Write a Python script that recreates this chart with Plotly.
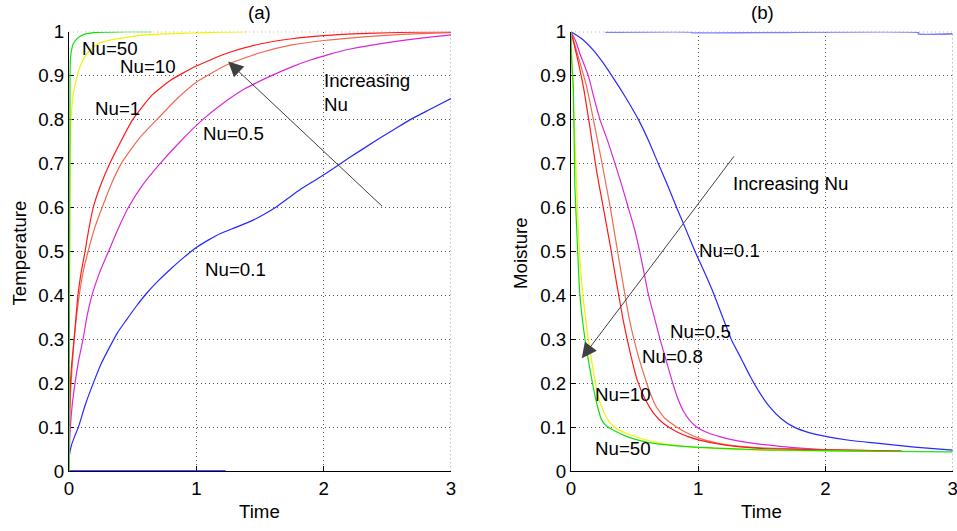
import plotly.graph_objects as go

# ---------- panel (a): temperature vs time ----------
ta_flat = [0.0, 1.23]
va_flat = [0.001, 0.001]

ta_nu01 = [0, 0.003, 0.02, 0.045, 0.073, 0.13, 0.19, 0.25, 0.32, 0.38, 0.45, 0.53, 0.61, 0.7, 0.79, 0.9, 1.0, 1.1, 1.19, 1.32, 1.45, 1.54, 1.63, 1.72, 1.81, 1.92, 2.02, 2.2, 2.42, 2.55, 2.68, 2.84, 3.0]
va_nu01 = [0.0, 0.035, 0.06, 0.08, 0.1, 0.153, 0.2, 0.243, 0.283, 0.315, 0.344, 0.376, 0.405, 0.433, 0.458, 0.486, 0.509, 0.527, 0.541, 0.556, 0.572, 0.586, 0.602, 0.621, 0.64, 0.66, 0.678, 0.713, 0.754, 0.777, 0.8, 0.824, 0.848]

ta_nu05 = [0, 0.008, 0.025, 0.047, 0.078, 0.11, 0.14, 0.18, 0.24, 0.31, 0.38, 0.466, 0.58, 0.715, 0.88, 1.05, 1.2, 1.38, 1.59, 1.75, 1.89, 2.05, 2.2, 2.5, 2.75, 3.0]
va_nu05 = [0.02, 0.087, 0.15, 0.2, 0.255, 0.3, 0.35, 0.4, 0.452, 0.5, 0.548, 0.6, 0.652, 0.7, 0.752, 0.8, 0.835, 0.87, 0.9, 0.92, 0.935, 0.949, 0.96, 0.975, 0.985, 0.993]

ta_nu08 = [0, 0.004, 0.012, 0.025, 0.04, 0.06, 0.08, 0.11, 0.15, 0.2, 0.26, 0.33, 0.41, 0.55, 0.69, 0.85, 1.0, 1.24, 1.5, 1.75, 2.0, 2.34, 2.7, 3.0]
va_nu08 = [0.02, 0.1, 0.18, 0.24, 0.3, 0.355, 0.4, 0.452, 0.5, 0.552, 0.6, 0.652, 0.7, 0.757, 0.8, 0.848, 0.885, 0.925, 0.952, 0.97, 0.98, 0.989, 0.995, 0.998]

ta_nu1 = [0, 0.004, 0.01, 0.02, 0.04, 0.07, 0.095, 0.126, 0.155, 0.19, 0.25, 0.32, 0.41, 0.5, 0.65, 0.8, 1.0, 1.25, 1.5, 1.75, 2.0, 2.34, 2.7, 3.0]
va_nu1 = [0.02, 0.12, 0.19, 0.24, 0.3, 0.4, 0.452, 0.5, 0.55, 0.6, 0.652, 0.7, 0.752, 0.8, 0.855, 0.89, 0.922, 0.952, 0.972, 0.984, 0.991, 0.996, 0.999, 1.0]

ta_nu10 = [0, 0.006, 0.012, 0.02, 0.034, 0.06, 0.086, 0.14, 0.21, 0.32, 0.45, 0.58, 0.75, 0.97, 1.2, 1.4]
va_nu10 = [0.0, 0.6, 0.78, 0.82, 0.86, 0.895, 0.92, 0.95, 0.97, 0.981, 0.987, 0.992, 0.995, 0.997, 0.999, 1.0]

ta_nu50 = [0, 0.008, 0.012, 0.02, 0.034, 0.06, 0.086, 0.13, 0.2, 0.3, 0.45, 0.65]
va_nu50 = [0.0, 0.9, 0.94, 0.958, 0.973, 0.983, 0.989, 0.995, 0.998, 0.999, 1.0, 1.0]

# ---------- panel (b): moisture vs time ----------
tb_flat = [0.27, 0.95, 0.95, 2.73, 2.73, 3.0]
vb_flat = [0.999, 0.999, 0.998, 0.998, 0.995, 0.995]

tb_nu01 = [0, 0.08, 0.175, 0.25, 0.32, 0.42, 0.53, 0.61, 0.686, 0.76, 0.83, 0.9, 0.975, 1.05, 1.12, 1.19, 1.26, 1.34, 1.41, 1.48, 1.56, 1.65, 1.75, 1.87, 2.01, 2.2, 2.40, 2.7, 3.0]
vb_nu01 = [1.0, 0.985, 0.958, 0.93, 0.9, 0.855, 0.8, 0.752, 0.7, 0.65, 0.6, 0.552, 0.5, 0.452, 0.405, 0.352, 0.3, 0.255, 0.215, 0.18, 0.147, 0.12, 0.101, 0.088, 0.079, 0.07, 0.064, 0.055, 0.048]

tb_nu05 = [0, 0.035, 0.07, 0.136, 0.18, 0.228, 0.29, 0.346, 0.4, 0.45, 0.5, 0.54, 0.575, 0.61, 0.655, 0.70, 0.75, 0.80, 0.84, 0.88, 0.93, 0.99, 1.08, 1.22, 1.38, 1.54, 1.75, 2.01, 2.27]
vb_nu05 = [1.0, 0.98, 0.95, 0.9, 0.85, 0.8, 0.75, 0.7, 0.65, 0.6, 0.55, 0.5, 0.45, 0.4, 0.35, 0.3, 0.25, 0.2, 0.165, 0.139, 0.117, 0.1, 0.087, 0.075, 0.066, 0.06, 0.054, 0.049, 0.047]

tb_nu08 = [0, 0.05, 0.123, 0.19, 0.254, 0.31, 0.36, 0.41, 0.46, 0.515, 0.57, 0.62, 0.67, 0.74, 0.83, 0.92, 1.01, 1.15, 1.35, 1.6, 2.0, 2.6]
vb_nu08 = [1.0, 0.95, 0.875, 0.78, 0.685, 0.598, 0.511, 0.425, 0.344, 0.277, 0.223, 0.18, 0.147, 0.12, 0.101, 0.086, 0.075, 0.064, 0.056, 0.052, 0.049, 0.046]

tb_nu1 = [0, 0.05, 0.097, 0.15, 0.20, 0.255, 0.31, 0.36, 0.41, 0.465, 0.52, 0.585, 0.65, 0.73, 0.83, 0.92, 1.01, 1.2, 1.49, 1.8, 2.19, 2.6]
vb_nu1 = [1.0, 0.94, 0.875, 0.78, 0.685, 0.598, 0.511, 0.425, 0.344, 0.27, 0.208, 0.163, 0.132, 0.108, 0.09, 0.079, 0.071, 0.06, 0.052, 0.05, 0.048, 0.046]

tb_nu10 = [0, 0.004, 0.012, 0.025, 0.04, 0.057, 0.075, 0.097, 0.136, 0.175, 0.2, 0.23, 0.27, 0.31, 0.37, 0.44, 0.56, 0.70, 0.85, 1.0, 1.48, 2.0, 2.6]
vb_nu10 = [1.0, 0.97, 0.9, 0.8, 0.68, 0.55, 0.46, 0.39, 0.30, 0.23, 0.19, 0.155, 0.127, 0.109, 0.095, 0.086, 0.074, 0.064, 0.058, 0.054, 0.048, 0.046, 0.045]

tb_nu50 = [0, 0.003, 0.008, 0.018, 0.03, 0.045, 0.07, 0.11, 0.15, 0.19, 0.215, 0.24, 0.28, 0.33, 0.44, 0.6, 0.83, 1.2, 1.48, 2.0, 2.5, 3.0]
vb_nu50 = [1.0, 0.95, 0.92, 0.875, 0.65, 0.55, 0.4, 0.3, 0.23, 0.17, 0.14, 0.117, 0.103, 0.094, 0.079, 0.066, 0.058, 0.052, 0.049, 0.047, 0.045, 0.044]

x_ticks = [0, 1, 2, 3]
y_ticks = [round(0.1 * i, 1) for i in range(11)]

FONT = "Liberation Sans, Arial, sans-serif"
FS = 18.7

colors = {
    "flat_a": "#1010ff",
    "flat_b": "#8080ff",
    "nu01": "#2828ff",
    "nu05": "#d828d8",
    "nu08": "#f06a50",
    "nu1": "#ff1a1a",
    "nu10": "#f2f200",
    "nu50": "#10e010",
}

fig = go.Figure()

panel_a = [
    (ta_flat, va_flat, "flat_a"),
    (ta_nu01, va_nu01, "nu01"),
    (ta_nu05, va_nu05, "nu05"),
    (ta_nu08, va_nu08, "nu08"),
    (ta_nu1, va_nu1, "nu1"),
    (ta_nu10, va_nu10, "nu10"),
    (ta_nu50, va_nu50, "nu50"),
]
panel_b = [
    (tb_flat, vb_flat, "flat_b"),
    (tb_nu01, vb_nu01, "nu01"),
    (tb_nu05, vb_nu05, "nu05"),
    (tb_nu08, vb_nu08, "nu08"),
    (tb_nu1, vb_nu1, "nu1"),
    (tb_nu10, vb_nu10, "nu10"),
    (tb_nu50, vb_nu50, "nu50"),
]

for t, v, key in panel_a:
    fig.add_trace(go.Scatter(x=t, y=v, mode="lines", xaxis="x", yaxis="y",
                             line=dict(color=colors[key], width=1.2,
                                       shape="spline", smoothing=0.5),
                             showlegend=False, hoverinfo="skip"))
for t, v, key in panel_b:
    fig.add_trace(go.Scatter(x=t, y=v, mode="lines", xaxis="x2", yaxis="y2",
                             line=dict(color=colors[key], width=1.6 if key == "flat_b" else 1.2,
                                       shape="spline", smoothing=0.5),
                             showlegend=False, hoverinfo="skip"))

dom_y = [1 - 471.3 / 531, 1 - 31.7 / 531]
dom_xa = [69 / 957, 451 / 957]
dom_xb = [571 / 957, 952.7 / 957]

axis_common = dict(
    showgrid=True, gridcolor="#555555", griddash="1px,3px", gridwidth=1,
    showline=True, linecolor="black", linewidth=1, mirror=False,
    ticks="inside", ticklen=5, tickcolor="black", zeroline=False,
    layer="below traces",
    tickfont=dict(family=FONT, size=FS, color="black"),
)

fig.update_layout(
    width=957, height=531, autosize=False,
    margin=dict(l=0, r=0, t=0, b=0, autoexpand=False),
    paper_bgcolor="white", plot_bgcolor="white",
    font=dict(family=FONT, size=FS, color="black"),
    xaxis=dict(domain=dom_xa, range=[0, 3], tickvals=x_ticks, anchor="y", **axis_common),
    yaxis=dict(domain=dom_y, range=[0, 1], tickvals=y_ticks, anchor="x", **axis_common),
    xaxis2=dict(domain=dom_xb, range=[0, 3], tickvals=x_ticks, anchor="y2",
                ticklabeloverflow="allow", **axis_common),
    yaxis2=dict(domain=dom_y, range=[0, 1], tickvals=y_ticks, anchor="x2", **axis_common),
)

# dotted frame edges (top and right) like the grid
for xr, yr in (("x", "y"), ("x2", "y2")):
    fig.add_shape(type="line", xref=xr, yref=yr, x0=0, x1=3, y0=1, y1=1,
                  line=dict(color="#555555", width=1, dash="1px,3px"), layer="below")
    fig.add_shape(type="line", xref=xr, yref=yr, x0=3, x1=3, y0=0, y1=1,
                  line=dict(color="#555555", width=1, dash="1px,3px"), layer="below")

ann = []


def label(text, x, y, xr, yr, xanchor="left", align="left"):
    ann.append(dict(text=text, x=x, y=y, xref=xr, yref=yr, showarrow=False,
                    xanchor=xanchor, yanchor="middle", align=align,
                    font=dict(family=FONT, size=FS, color="black")))


# curve labels, panel (a)
label("Nu=50", 0.086, 0.962, "x", "y")
label("Nu=10", 0.387, 0.92, "x", "y")
label("Nu=1", 0.19, 0.826, "x", "y")
label("Nu=0.5", 1.04, 0.769, "x", "y")
label("Nu=0.1", 1.055, 0.458, "x", "y")
label("Increasing<br>Nu", 1.985, 0.862, "x", "y")

# curve labels, panel (b)
label("Nu=0.1", 0.99, 0.503, "x2", "y2")
label("Nu=0.5", 0.765, 0.318, "x2", "y2")
label("Nu=0.8", 0.54, 0.261, "x2", "y2")
label("Nu=10", 0.17, 0.174, "x2", "y2")
label("Nu=50", 0.17, 0.052, "x2", "y2")
label("Increasing Nu", 1.26, 0.655, "x2", "y2")

# arrows
ann.append(dict(x=1.25, y=0.932, ax=2.47, ay=0.60, xref="x", yref="y", axref="x", ayref="y",
                text="", showarrow=True, arrowhead=2, arrowsize=3, arrowwidth=1,
                arrowcolor="#404040"))
ann.append(dict(x=0.085, y=0.257, ax=1.29, ay=0.72, xref="x2", yref="y2", axref="x2", ayref="y2",
                text="", showarrow=True, arrowhead=2, arrowsize=3, arrowwidth=1,
                arrowcolor="#404040"))


# titles and axis names
def paper_text(text, x, y, angle=0):
    ann.append(dict(text=text, x=x / 957, y=1 - y / 531, xref="paper", yref="paper",
                    showarrow=False, xanchor="center", yanchor="middle", textangle=angle,
                    font=dict(family=FONT, size=FS, color="black")))


paper_text("(a)", 259, 12)
paper_text("(b)", 762, 12)
paper_text("Time", 259, 511)
paper_text("Time", 761, 511)
paper_text("Temperature", 18.5, 253, -90)
paper_text("Moisture", 520, 253, -90)

fig.update_layout(annotations=ann)

fig.write_html("out.html", config={"responsive": False},
               post_script="document.body.style.margin='0';document.body.style.padding='0';")
